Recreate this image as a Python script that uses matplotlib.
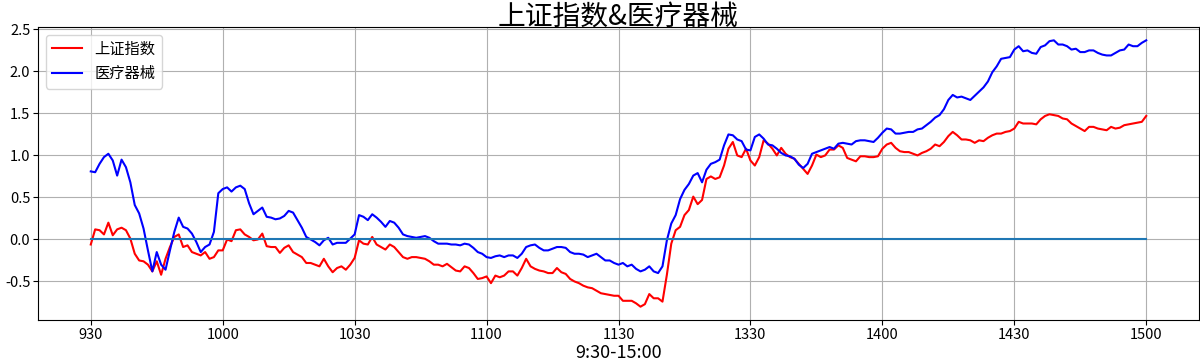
import numpy as np
import matplotlib
matplotlib.use("Agg")
import matplotlib.pyplot as plt

plt.rcParams['font.family'] = ['Noto Sans CJK SC', 'DejaVu Sans']
plt.rcParams['axes.unicode_minus'] = False

# minute-by-minute % change, 9:30-11:30 + 13:00-15:00 (241 points)
sh_index = [
    -0.06, 0.12, 0.11, 0.06, 0.20, 0.05, 0.12, 0.14, 0.11, 0.01,
    -0.17, -0.25, -0.26, -0.30, -0.38, -0.26, -0.42, -0.23, -0.09, 0.03,
    0.06, -0.09, -0.07, -0.15, -0.17, -0.19, -0.15, -0.23, -0.21, -0.13,
    -0.13, 0.00, -0.02, 0.11, 0.12, 0.06, 0.03, -0.01, 0.00, 0.07,
    -0.08, -0.09, -0.09, -0.16, -0.10, -0.07, -0.15, -0.18, -0.21, -0.28,
    -0.28, -0.30, -0.32, -0.23, -0.32, -0.39, -0.34, -0.32, -0.36, -0.30,
    -0.22, -0.01, -0.05, -0.06, 0.03, -0.06, -0.09, -0.12, -0.06, -0.09,
    -0.15, -0.21, -0.23, -0.21, -0.21, -0.22, -0.23, -0.26, -0.30, -0.30,
    -0.32, -0.29, -0.33, -0.37, -0.38, -0.32, -0.34, -0.40, -0.47, -0.46,
    -0.44, -0.52, -0.43, -0.45, -0.43, -0.38, -0.38, -0.43, -0.34, -0.23,
    -0.32, -0.35, -0.37, -0.38, -0.40, -0.40, -0.34, -0.39, -0.41, -0.47,
    -0.50, -0.52, -0.55, -0.57, -0.58, -0.61, -0.64, -0.65, -0.66, -0.67,
    -0.67, -0.73, -0.73, -0.73, -0.76, -0.80, -0.77, -0.65, -0.70, -0.70,
    -0.74, -0.42, -0.05, 0.11, 0.15, 0.29, 0.35, 0.51, 0.42, 0.47,
    0.72, 0.75, 0.72, 0.74, 0.88, 1.08, 1.16, 1.00, 0.98, 1.08,
    0.94, 0.88, 0.98, 1.18, 1.14, 1.08, 1.00, 1.09, 1.02, 0.98,
    0.96, 0.90, 0.84, 0.78, 0.88, 1.01, 0.98, 1.00, 1.07, 1.07,
    1.12, 1.09, 0.97, 0.95, 0.93, 0.99, 0.99, 0.98, 0.98, 0.99,
    1.08, 1.13, 1.15, 1.09, 1.05, 1.04, 1.04, 1.02, 1.00, 1.03,
    1.05, 1.08, 1.13, 1.11, 1.16, 1.23, 1.28, 1.24, 1.19, 1.19,
    1.18, 1.15, 1.18, 1.17, 1.21, 1.24, 1.26, 1.26, 1.28, 1.29,
    1.32, 1.40, 1.38, 1.38, 1.38, 1.37, 1.43, 1.47, 1.49, 1.48,
    1.47, 1.44, 1.43, 1.38, 1.35, 1.32, 1.29, 1.34, 1.34, 1.32,
    1.31, 1.30, 1.34, 1.32, 1.33, 1.36, 1.37, 1.38, 1.39, 1.40,
    1.47,
]

medical = [
    0.81, 0.80, 0.90, 0.98, 1.02, 0.94, 0.76, 0.95, 0.86, 0.68,
    0.41, 0.31, 0.13, -0.13, -0.38, -0.15, -0.30, -0.36, -0.13, 0.09,
    0.26, 0.15, 0.13, 0.07, -0.03, -0.15, -0.09, -0.06, 0.09, 0.55,
    0.60, 0.62, 0.57, 0.62, 0.64, 0.60, 0.43, 0.30, 0.34, 0.38,
    0.27, 0.26, 0.24, 0.25, 0.28, 0.34, 0.32, 0.23, 0.14, 0.03,
    0.00, -0.03, -0.07, -0.01, 0.02, -0.06, -0.04, -0.04, -0.04, 0.01,
    0.06, 0.29, 0.27, 0.23, 0.30, 0.26, 0.21, 0.15, 0.22, 0.20,
    0.14, 0.06, 0.04, 0.03, 0.02, 0.03, 0.04, 0.02, -0.02, -0.05,
    -0.05, -0.05, -0.06, -0.06, -0.07, -0.05, -0.06, -0.10, -0.15, -0.17,
    -0.21, -0.22, -0.20, -0.19, -0.21, -0.19, -0.19, -0.22, -0.17, -0.09,
    -0.07, -0.06, -0.10, -0.13, -0.13, -0.11, -0.09, -0.09, -0.10, -0.15,
    -0.17, -0.17, -0.18, -0.21, -0.19, -0.17, -0.21, -0.25, -0.25, -0.28,
    -0.30, -0.28, -0.32, -0.30, -0.35, -0.38, -0.36, -0.32, -0.38, -0.40,
    -0.32, -0.01, 0.19, 0.29, 0.48, 0.59, 0.66, 0.76, 0.79, 0.68,
    0.83, 0.90, 0.92, 0.95, 1.12, 1.25, 1.24, 1.19, 1.17, 1.07,
    1.06, 1.22, 1.25, 1.20, 1.13, 1.12, 1.08, 1.03, 1.00, 0.99,
    0.96, 0.89, 0.85, 0.90, 1.02, 1.04, 1.06, 1.08, 1.10, 1.08,
    1.14, 1.15, 1.14, 1.13, 1.17, 1.18, 1.18, 1.17, 1.16, 1.21,
    1.27, 1.32, 1.31, 1.26, 1.26, 1.27, 1.28, 1.28, 1.31, 1.32,
    1.36, 1.40, 1.45, 1.48, 1.55, 1.66, 1.72, 1.69, 1.70, 1.68,
    1.66, 1.71, 1.76, 1.81, 1.88, 1.99, 2.06, 2.15, 2.16, 2.17,
    2.26, 2.30, 2.24, 2.25, 2.22, 2.21, 2.29, 2.31, 2.36, 2.37,
    2.32, 2.32, 2.30, 2.26, 2.27, 2.23, 2.23, 2.25, 2.25, 2.22,
    2.20, 2.19, 2.19, 2.22, 2.25, 2.26, 2.32, 2.30, 2.30, 2.34,
    2.37,
]

tick_labels = ['930', '1000', '1030', '1100', '1130', '1330', '1400', '1430', '1500']

x = np.arange(len(sh_index))

fig = plt.figure(figsize=(12, 3.61), dpi=100)
ax = fig.add_axes([38 / 1200, 41 / 361, 1161 / 1200, 293 / 361])

ax.plot(x, sh_index, color='r', label='上证指数')
ax.plot(x, medical, color='b', label='医疗器械')
ax.plot(x, np.zeros(len(x)))

ax.set_xticks(np.arange(0, len(x), 30))
ax.set_xticklabels(tick_labels)
ax.tick_params(labelsize=10.5, pad=2)
ax.grid(True)
ax.legend(loc='upper left', fontsize=11)

# title and xlabel placed by hand, the CJK font is tall
ax.set_title('上证指数&医疗器械', fontsize=20, y=1 + 10 / 293, pad=0, va='center')
ax.set_xlabel('9:30-15:00', fontsize=13)
ax.xaxis.set_label_coords(0.5, -33 / 293)
ax.xaxis.label.set_va('center')

fig.savefig('out.png', dpi=100)
